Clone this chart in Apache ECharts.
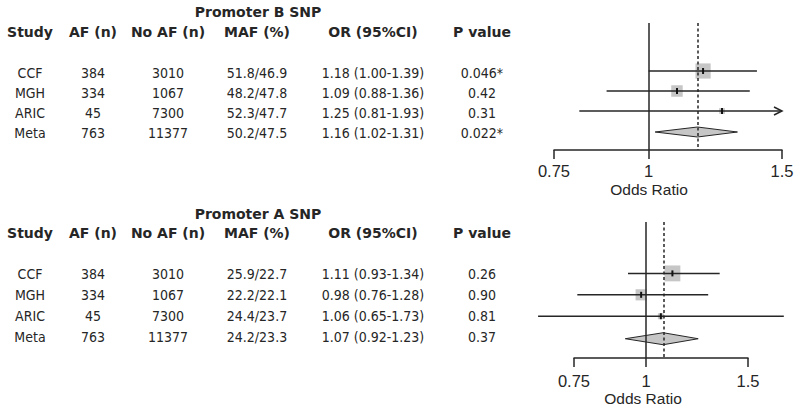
<!DOCTYPE html>
<html><head><meta charset="utf-8">
<script src="https://cdn.jsdelivr.net/npm/echarts@6/dist/echarts.min.js"></script>
<style>html,body{margin:0;padding:0;background:#fff}#c{width:800px;height:413px}</style>
</head><body><div id="c"></div>
<script>
// ---------- data ----------
const studies = ['CCF', 'MGH', 'ARIC', 'Meta'];
const afN = [384, 334, 45, 763];
const noAfN = [3010, 1067, 7300, 11377];
const headers = ['Study', 'AF (n)', 'No AF (n)', 'MAF (%)', 'OR (95%CI)', 'P value'];
const xTicks = [0.75, 1, 1.5];

// Promoter B SNP
const bTitle = 'Promoter B SNP';
const bMafCase = [51.8, 48.2, 52.3, 50.2];
const bMafCtrl = [46.9, 47.8, 47.7, 47.5];
const bOR = [1.18, 1.09, 1.25, 1.16];
const bLo = [1.00, 0.88, 0.81, 1.02];
const bHi = [1.39, 1.36, 1.93, 1.31];
const bP = ['0.046*', '0.42', '0.31', '0.022*'];

// Promoter A SNP
const aTitle = 'Promoter A SNP';
const aMafCase = [25.9, 22.2, 24.4, 24.2];
const aMafCtrl = [22.7, 22.1, 23.7, 23.3];
const aOR = [1.11, 0.98, 1.06, 1.07];
const aLo = [0.93, 0.76, 0.65, 0.92];
const aHi = [1.34, 1.28, 1.73, 1.23];
const aP = ['0.26', '0.90', '0.81', '0.37'];

// ---------- layout ----------
const panels = [
  { title: bTitle, mafCase: bMafCase, mafCtrl: bMafCtrl, or: bOR, lo: bLo, hi: bHi, p: bP,
    titleY: 12, headerY: 32, rowY0: 72.5, rowStep: 20.3,
    grid: { left: 554, width: 228, top: 23, height: 127 }, labelMargin: 14, oddsY: 189,
    plotMax: 1.5, boxK: 5.0, diamondH: 5 },
  { title: aTitle, mafCase: aMafCase, mafCtrl: aMafCtrl, or: aOR, lo: aLo, hi: aHi, p: aP,
    titleY: 214, headerY: 233, rowY0: 274, rowStep: 21,
    grid: { left: 574, width: 174, top: 222, height: 136 }, labelMargin: 16, oddsY: 398,
    plotMax: 2.0, boxK: 5.8, diamondH: 6 }
];
const colX = [30, 93, 168, 257, 373, 482];
const rowPos = [2.4, 3.4, 4.4, 5.45]; // vertical slots on the hidden y axis
const ink = '#262626';
const headFont = 'bold 14px "DejaVu Sans"';
const bodyFont = '14px "DejaVu Sans Condensed", "DejaVu Sans"';

const graphics = [];
const grids = [], xAxes = [], yAxes = [], series = [];

panels.forEach((P, k) => {
  // table text
  graphics.push({ type: 'text', style: { text: P.title, x: 258, y: P.titleY, font: headFont, fill: ink, align: 'center', verticalAlign: 'middle' } });
  headers.forEach((h, j) => graphics.push({ type: 'text', style: { text: h, x: colX[j], y: P.headerY, font: headFont, fill: ink, align: 'center', verticalAlign: 'middle' } }));
  studies.forEach((s, i) => {
    const cells = [s, String(afN[i]), String(noAfN[i]),
      P.mafCase[i].toFixed(1) + '/' + P.mafCtrl[i].toFixed(1),
      P.or[i].toFixed(2) + ' (' + P.lo[i].toFixed(2) + '-' + P.hi[i].toFixed(2) + ')',
      P.p[i]];
    cells.forEach((t, j) => graphics.push({ type: 'text', style: { text: t, x: colX[j], y: P.rowY0 + i * P.rowStep, font: bodyFont, fill: ink, align: 'center', verticalAlign: 'middle' } }));
  });

  // forest plot
  grids.push({ left: P.grid.left, width: P.grid.width, top: P.grid.top, height: P.grid.height, containLabel: false });
  const tickVals = xTicks.map(v => Math.log(v));
  xAxes.push({
    type: 'value', gridIndex: k, position: 'bottom',
    min: Math.log(xTicks[0]), max: Math.log(xTicks[xTicks.length - 1]),
    axisLine: { show: true, onZero: false, lineStyle: { color: ink, width: 1.5 } },
    axisTick: { show: true, length: 9, customValues: tickVals, lineStyle: { color: ink, width: 1.5 } },
    axisLabel: { show: true, customValues: tickVals, margin: P.labelMargin, color: ink,
      fontFamily: '"Liberation Sans", Arial, sans-serif', fontSize: 16.5, lineHeight: 13,
      formatter: v => String(parseFloat(Math.exp(v).toFixed(2))) },
    splitLine: { show: false }
  });
  yAxes.push({ type: 'value', gridIndex: k, min: 0, max: 6.35, inverse: true, show: false });

  const nStudy = studies.length - 1;
  const studyData = [];
  for (let i = 0; i < nStudy; i++) studyData.push([Math.log(P.or[i]), Math.log(P.lo[i]), Math.log(P.hi[i]), rowPos[i]]);
  const m = nStudy;
  const metaData = [[Math.log(P.or[m]), Math.log(P.lo[m]), Math.log(P.hi[m]), rowPos[m]]];
  const plotMaxL = Math.log(P.plotMax);

  series.push({
    type: 'custom', xAxisIndex: k, yAxisIndex: k, clip: false, silent: true, z: 3,
    data: studyData,
    renderItem: (params, api) => {
      const x = api.value(0), lo = api.value(1), hi = api.value(2), y = api.value(3);
      const c = api.coord([x, y]);
      const pl = api.coord([lo, y]);
      const ph = api.coord([Math.min(hi, plotMaxL), y]);
      const s = P.boxK / (hi - lo);
      const ch = [
        { type: 'rect', shape: { x: c[0] - s / 2, y: c[1] - s / 2, width: s, height: s }, style: { fill: '#c6c6c6', stroke: null } },
        { type: 'line', shape: { x1: pl[0], y1: pl[1], x2: ph[0], y2: ph[1] }, style: { stroke: ink, lineWidth: 1.5 } },
        { type: 'line', shape: { x1: c[0], y1: c[1] - 3, x2: c[0], y2: c[1] + 3 }, style: { stroke: '#111', lineWidth: 2 } }
      ];
      if (hi > plotMaxL) {
        ch.push({ type: 'polyline', shape: { points: [[ph[0] - 8, ph[1] - 4], [ph[0], ph[1]], [ph[0] - 8, ph[1] + 4]] }, style: { stroke: ink, lineWidth: 1.5, fill: null } });
      }
      return { type: 'group', children: ch };
    },
    markLine: {
      silent: true, symbol: 'none', label: { show: false }, animation: false,
      data: [
        { xAxis: 0, lineStyle: { color: ink, width: 1.5, type: 'solid' } },
        { xAxis: Math.log(P.or[m]), lineStyle: { color: ink, width: 1.5, type: [3, 2.5] } }
      ]
    }
  });
  series.push({
    type: 'custom', xAxisIndex: k, yAxisIndex: k, clip: false, silent: true, z: 4,
    data: metaData,
    renderItem: (params, api) => {
      const x = api.value(0), lo = api.value(1), hi = api.value(2), y = api.value(3);
      const c = api.coord([x, y]);
      const pl = api.coord([lo, y]);
      const ph = api.coord([hi, y]);
      const h = P.diamondH;
      return { type: 'polygon', shape: { points: [[pl[0], pl[1]], [c[0], c[1] - h], [ph[0], ph[1]], [c[0], c[1] + h]] },
        style: { fill: '#c6c6c6', stroke: ink, lineWidth: 1 } };
    }
  });

  graphics.push({ type: 'text', style: { text: 'Odds Ratio', x: k === 0 ? 649 : 643, y: P.oddsY, font: '15.5px "Liberation Sans", Arial, sans-serif', lineHeight: 13, fill: ink, align: 'center', verticalAlign: 'middle' } });
});

const chart = echarts.init(document.getElementById('c'), null, { renderer: 'svg' });
chart.setOption({
  animation: false,
  backgroundColor: '#fff',
  grid: grids, xAxis: xAxes, yAxis: yAxes, series: series,
  graphic: graphics
});
</script></body></html>
